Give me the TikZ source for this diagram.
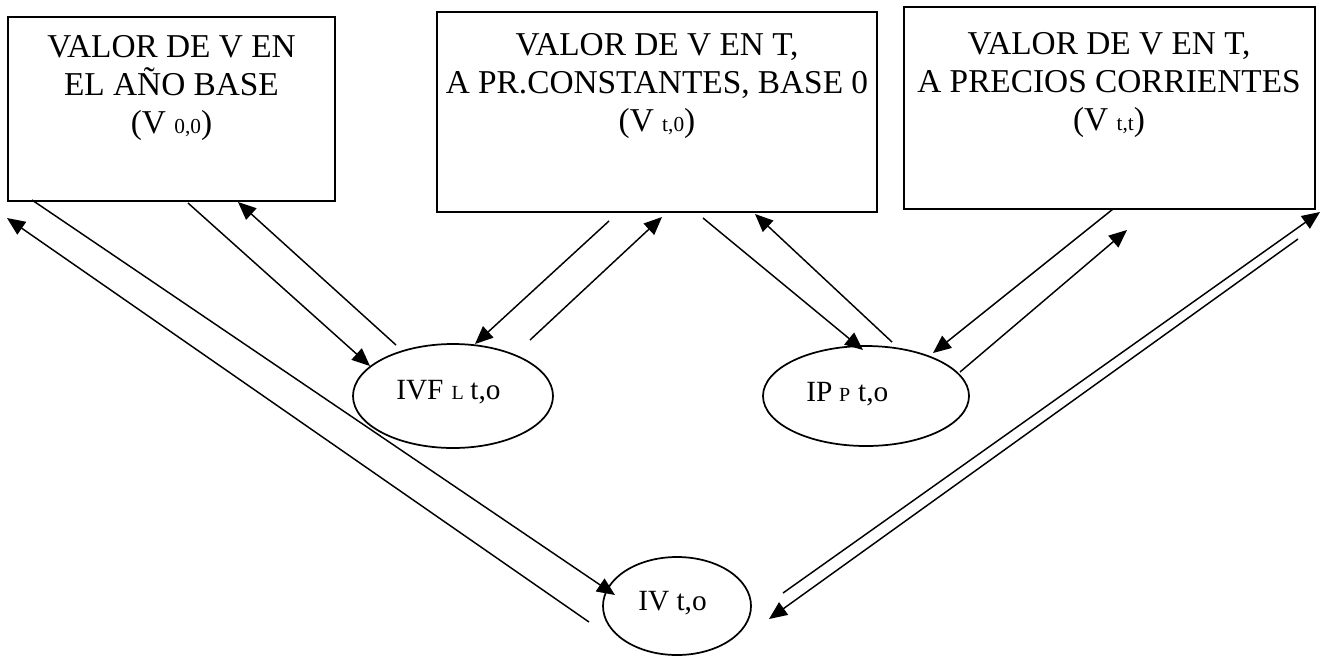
\documentclass[tikz,border=0pt]{standalone}
\usepackage{fontspec}
\setmainfont{Liberation Serif}
\usetikzlibrary{arrows.meta,shapes.geometric}
\newcommand{\boxsub}[1]{{\fontsize{16}{16}\selectfont #1}}
\newcommand{\ovsub}[1]{{\fontsize{15}{15}\selectfont #1}}
\begin{document}
\begin{tikzpicture}[x=0.75pt,y=-0.75pt,
  box/.style={draw, rectangle, line width=1.4pt, inner sep=0pt},
  oval/.style={draw, ellipse, line width=1.3pt, inner sep=0pt},
  lbl/.style={inner sep=0pt, align=center, anchor=north, font=\fontsize{25}{28.5}\selectfont},
  elbl/.style={inner sep=0pt, anchor=base west, font=\fontsize{22}{24}\selectfont},
  conn/.style={line width=1.1pt, -{Triangle[length=13.5pt,width=11.5pt]}}]
\useasboundingbox (0,0) rectangle (1327,662);

% boxes
\node[box, minimum width=245.25pt, minimum height=138pt] (b1) at (171.5,109) {};
\node[box, minimum width=330pt, minimum height=150pt] (b2) at (657,112) {};
\node[box, minimum width=308.25pt, minimum height=151.5pt] (b3) at (1109.5,108) {};

\node[lbl] (t1) at (171.5,35) {VALOR DE V EN\\EL AÑO BASE\\(V \boxsub{0,0})};
\node[lbl] (t2) at (657,33) {VALOR DE V EN T,\\A PR.CONSTANTES, BASE 0\\(V \boxsub{t,0})};
\node[lbl] (t3) at (1109,32) {VALOR DE V EN T,\\A PRECIOS CORRIENTES\\(V \boxsub{t,t})};

% ellipses
\node[oval, minimum width=150pt, minimum height=78pt] (e1) at (453,396) {};
\node[oval, minimum width=154.5pt, minimum height=75pt] (e2) at (866,396) {};
\node[oval, minimum width=111pt, minimum height=73.5pt] (e3) at (677,606) {};

\node[elbl] (l1) at (396,399) {IVF\hspace{6pt}\ovsub{L}\hspace{5pt}t,o};
\node[elbl] (l2) at (806,401) {IP\hspace{5pt}\ovsub{P}\hspace{6pt}t,o};
\node[elbl] (l3) at (638,610) {IV t,o};

% connector end points
\coordinate (a1s) at (32,200);   \coordinate (a1e) at (615,595);
\coordinate (a2s) at (589,622);  \coordinate (a2e) at (7,218);
\coordinate (a3s) at (188,203);  \coordinate (a3e) at (370,366);
\coordinate (a4s) at (396,345);  \coordinate (a4e) at (238,202);
\coordinate (a5s) at (609,221);  \coordinate (a5e) at (475,344);
\coordinate (a6s) at (530,340);  \coordinate (a6e) at (662,217);
\coordinate (a7s) at (703,218);  \coordinate (a7e) at (863,350);
\coordinate (a8s) at (892,342);  \coordinate (a8e) at (755,214);
\coordinate (a9s) at (1113,209); \coordinate (a9e) at (933,353);
\coordinate (a10s) at (960,372); \coordinate (a10e) at (1127,230);
\coordinate (a11s) at (783,593); \coordinate (a11e) at (1320,212);
\coordinate (a12s) at (1298,239);\coordinate (a12e) at (769,619);

\draw[conn] (a1s) -- (a1e);
\draw[conn] (a2s) -- (a2e);
\draw[conn] (a3s) -- (a3e);
\draw[conn] (a4s) -- (a4e);
\draw[conn] (a5s) -- (a5e);
\draw[conn] (a6s) -- (a6e);
\draw[conn] (a7s) -- (a7e);
\draw[conn] (a8s) -- (a8e);
\draw[conn] (a9s) -- (a9e);
\draw[conn] (a10s) -- (a10e);
\draw[conn] (a11s) -- (a11e);
\draw[conn] (a12s) -- (a12e);
\end{tikzpicture}
\end{document}
